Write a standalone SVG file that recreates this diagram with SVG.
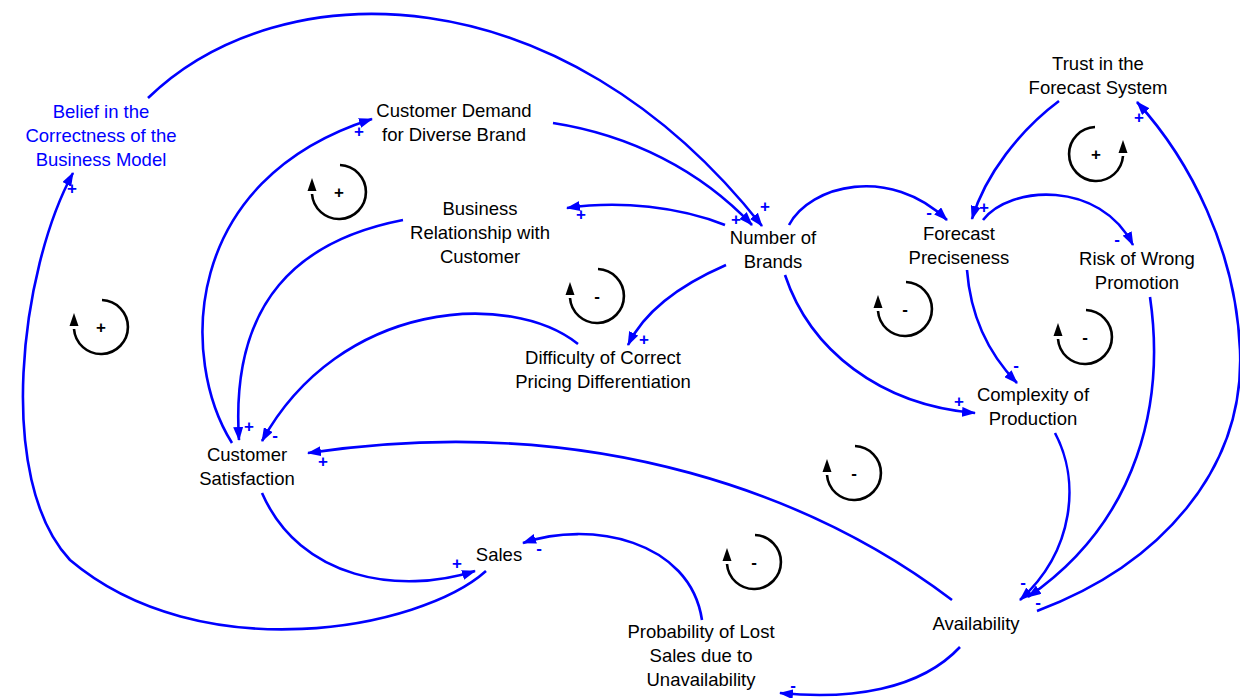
<svg xmlns="http://www.w3.org/2000/svg" width="1240" height="698" viewBox="0 0 1240 698">
<style>
.n{font-family:"Liberation Sans",Arial,sans-serif;font-size:18.5px;fill:#000;text-anchor:middle}
.nb{fill:#0000FF}
.c{fill:none;stroke:#0000FF;stroke-width:2.6;marker-end:url(#ah)}
.p{font-family:"Liberation Sans",Arial,sans-serif;font-size:17px;font-weight:bold;fill:#0000FF;text-anchor:middle;dominant-baseline:central}
.lp{fill:none;stroke:#000;stroke-width:2.6}
.lt{font-family:"Liberation Sans",Arial,sans-serif;font-size:17px;font-weight:bold;fill:#000;text-anchor:middle;dominant-baseline:central}
</style>
<defs>
<marker id="ah" viewBox="0 0 14 10" refX="13" refY="5" markerWidth="14" markerHeight="10" markerUnits="userSpaceOnUse" orient="auto">
<path d="M0,0 L14,5 L0,10 z" fill="#0000FF"/>
</marker>
<g id="loop">
<path class="lp" d="M1,-27 A27,27 0 1,1 -27,2"/>
<path d="M-27,-14 L-31.5,-1 L-22.5,-1 z" fill="#000"/>
</g>
</defs>
<rect width="1240" height="698" fill="#fff"/>

<g id="connectors">
<path class="c" d="M148,98 C280,-30 560,-30 762,226"/>
<path class="c" d="M553,123 C630,135 700,170 752,225"/>
<path class="c" d="M725,225 C680,207 620,200 567,208"/>
<path class="c" d="M726,265 C680,285 645,310 628,345"/>
<path class="c" d="M789,225 C810,185 890,165 947,220"/>
<path class="c" d="M785,275 C810,350 880,405 975,413"/>
<path class="c" d="M1059,101 C1020,130 985,175 972,219"/>
<path class="c" d="M983,220 C1010,185 1100,180 1133,245"/>
<path class="c" d="M967,270 C970,310 985,350 1017,383"/>
<path class="c" d="M1055,433 C1080,480 1075,550 1020,600"/>
<path class="c" d="M1150,297 C1165,400 1140,520 1028,597"/>
<path class="c" d="M1037,611 C1160,565 1245,470 1240,350 C1236,250 1190,160 1137,102"/>
<path class="c" d="M952,600 C820,500 600,410 308,453"/>
<path class="c" d="M262,493 C300,580 400,595 475,571"/>
<path class="c" d="M486,571 C420,630 200,670 70,560 C-5,480 20,270 73,173"/>
<path class="c" d="M232,443 C180,360 180,180 372,119"/>
<path class="c" d="M403,220 C300,240 230,300 239,440"/>
<path class="c" d="M578,344 C510,290 340,300 262,441"/>
<path class="c" d="M702,620 C690,540 590,520 523,543"/>
<path class="c" d="M960,647 C920,690 850,700 780,693"/>
<g id="polarities">
<text class="p" x="72" y="188">+</text>
<text class="p" x="359" y="131">+</text>
<text class="p" x="249" y="426">+</text>
<text class="p" x="275" y="435">-</text>
<text class="p" x="323" y="461">+</text>
<text class="p" x="457" y="563">+</text>
<text class="p" x="539" y="548">-</text>
<text class="p" x="793" y="685">-</text>
<text class="p" x="581" y="214">+</text>
<text class="p" x="736" y="219">+</text>
<text class="p" x="765" y="206">+</text>
<text class="p" x="644" y="339">+</text>
<text class="p" x="929" y="212">-</text>
<text class="p" x="984" y="207">+</text>
<text class="p" x="1117" y="239">-</text>
<text class="p" x="1139" y="117">+</text>
<text class="p" x="1016" y="365">-</text>
<text class="p" x="959" y="401">+</text>
<text class="p" x="1023" y="582">-</text>
<text class="p" x="1038" y="602">-</text>
</g>
</g>

<g id="loops">
<g id="loop1"><use href="#loop" transform="translate(339,192)"/><text class="lt" x="339" y="192">+</text></g>
<g id="loop2"><use href="#loop" transform="translate(101,327)"/><text class="lt" x="101" y="327">+</text></g>
<g id="loop3"><use href="#loop" transform="translate(597,296)"/><text class="lt" x="597" y="296">-</text></g>
<g id="loop4"><use href="#loop" transform="translate(1096,154) scale(-1,1)"/><text class="lt" x="1096" y="154">+</text></g>
<g id="loop5"><use href="#loop" transform="translate(905,309)"/><text class="lt" x="905" y="309">-</text></g>
<g id="loop6"><use href="#loop" transform="translate(1085,337)"/><text class="lt" x="1085" y="337">-</text></g>
<g id="loop7"><use href="#loop" transform="translate(854,473)"/><text class="lt" x="854" y="473">-</text></g>
<g id="loop8"><use href="#loop" transform="translate(754,562)"/><text class="lt" x="754" y="562">-</text></g>
</g>

<g id="belief"><text class="n nb" x="101" y="118">Belief in the</text><text class="n nb" x="101" y="142">Correctness of the</text><text class="n nb" x="101" y="166">Business Model</text></g>
<g id="demand"><text class="n" x="454" y="117">Customer Demand</text><text class="n" x="454" y="141">for Diverse Brand</text></g>
<g id="relationship"><text class="n" x="480" y="215">Business</text><text class="n" x="480" y="239">Relationship with</text><text class="n" x="480" y="263">Customer</text></g>
<g id="brands"><text class="n" x="773" y="244">Number of</text><text class="n" x="773" y="268">Brands</text></g>
<g id="forecast"><text class="n" x="959" y="240">Forecast</text><text class="n" x="959" y="264">Preciseness</text></g>
<g id="risk"><text class="n" x="1137" y="265">Risk of Wrong</text><text class="n" x="1137" y="289">Promotion</text></g>
<g id="trust"><text class="n" x="1098" y="70">Trust in the</text><text class="n" x="1098" y="94">Forecast System</text></g>
<g id="difficulty"><text class="n" x="603" y="364">Difficulty of Correct</text><text class="n" x="603" y="388">Pricing Differentiation</text></g>
<g id="complexity"><text class="n" x="1033" y="401">Complexity of</text><text class="n" x="1033" y="425">Production</text></g>
<g id="satisfaction"><text class="n" x="247" y="461">Customer</text><text class="n" x="247" y="485">Satisfaction</text></g>
<g id="sales"><text class="n" x="499" y="561">Sales</text></g>
<g id="lostsales"><text class="n" x="701" y="638">Probability of Lost</text><text class="n" x="701" y="662">Sales due to</text><text class="n" x="701" y="686">Unavailability</text></g>
<g id="availability"><text class="n" x="976" y="630">Availability</text></g>
</svg>
